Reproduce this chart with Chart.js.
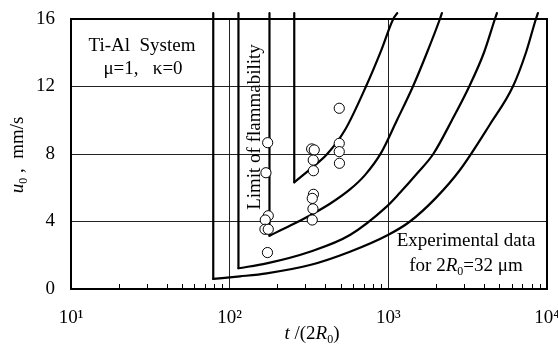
<!DOCTYPE html>
<html>
<head>
<meta charset="utf-8">
<script src="https://cdn.jsdelivr.net/npm/chart.js@4.4.1/dist/chart.umd.min.js"></script>
<style>
  body { margin: 0; background: #fff; }
  #wrap { width: 558px; height: 344px; }
</style>
</head>
<body>
<div id="wrap"><canvas id="myChart" width="558" height="344"></canvas></div>
<script>
// nhan truc
var xTickLabels = ['10\u00b9', '10\u00b2', '10\u00b3', '10\u2074'];
var yStep = 4;

// duong cong: diem dau la goc duoi, tu do ve thang dung len tren
var lineTop = 16.35;
var curveA_t = [78.8, 116.1, 171.1, 320.7, 572.9, 994.2, 1368, 1995, 2826, 4367, 6097, 7363, 8513, 8763];
var curveA_u = [0.6, 0.75, 0.93, 1.42, 2.21, 3.2, 4.0, 5.4, 7.05, 9.75, 12.0, 14.0, 16.0, 16.35];
var curveB_t = [113.6, 171.1, 320.7, 572.9, 975.6, 1183, 1536, 1919, 2516, 3234, 4003, 4696, 4834];
var curveB_u = [1.23, 1.52, 2.21, 3.2, 4.88, 5.7, 6.9, 8.0, 10.0, 12.0, 14.0, 16.0, 16.35];
var curveC_t = [178.2, 239.9, 320.7, 428.6, 572.9, 712.2, 898.2, 1133, 1429, 1751, 2114, 2176];
var curveC_u = [3.16, 3.75, 4.36, 5.05, 5.9, 6.75, 8.05, 10.0, 12.0, 14.0, 16.0, 16.35];
var curveD_t = [255.3, 336.3, 410.4, 532.8, 722.6, 898.2, 1074, 1138];
var curveD_u = [6.32, 7.25, 7.98, 9.42, 12.0, 14.1, 16.0, 16.35];

// diem thuc nghiem 2R0 = 32 um
var expT = [173.6, 169.3, 175.1, 167.6, 166.9, 175.1, 173.1,
            328.6, 341.2, 336.3, 337.3, 337.3, 331.5, 334.9, 331.5,
            490.5, 490.5, 490.5, 491.9];
var expU = [8.67, 6.89, 4.34, 4.09, 3.54, 3.54, 2.16,
            8.30, 8.24, 7.64, 7.01, 5.61, 5.37, 4.75, 4.09,
            10.71, 8.63, 8.14, 7.45];

var minorSteps = [2, 3, 4, 5, 6, 7, 8, 9];
var FONT = '"Liberation Serif", "Times New Roman", serif';

function toPoints(ts, us) {
    return ts.map(function (t, i) { return { x: t, y: us[i] }; });
}

function isPow10(v) {
    var e = Math.log10(v);
    return Math.abs(e - Math.round(e)) < 1e-9;
}

function lineSet(data, smooth) {
    return {
        data: data,
        showLine: true,
        borderColor: '#000',
        borderWidth: 2.2,
        borderCapStyle: 'round',
        pointRadius: 0,
        tension: smooth ? 0.4 : 0,
        cubicInterpolationMode: smooth ? 'monotone' : 'default',
        clip: false
    };
}

function curveSets(ts, us) {
    return [
        lineSet([{ x: ts[0], y: lineTop }, { x: ts[0], y: us[0] }], false),
        lineSet(toPoints(ts, us), true)
    ];
}

// chu co in nghieng / chi so duoi
function fontOf(s) {
    if (s === 'i') return 'italic 19px ' + FONT;
    if (s === 's') return '12px ' + FONT;
    return '19px ' + FONT;
}

function veDong(ctx, parts, x, y) {
    var total = 0;
    parts.forEach(function (p) { ctx.font = fontOf(p[1]); total += ctx.measureText(p[0]).width; });
    var cx = x - total / 2;
    ctx.textAlign = 'left';
    parts.forEach(function (p) {
        ctx.font = fontOf(p[1]);
        ctx.fillText(p[0], cx, y + (p[1] === 's' ? 4 : 0));
        cx += ctx.measureText(p[0]).width;
    });
}

var veKhung = {
    id: 'veKhung',
    afterDatasetsDraw: function (chart) {
        var ctx = chart.ctx, a = chart.chartArea, xs = chart.scales.x;
        ctx.save();
        ctx.strokeStyle = '#000';
        // vach nho ben trong truc x
        ctx.lineWidth = 1;
        for (var d = 10; d < 10000; d *= 10) {
            minorSteps.forEach(function (m) {
                var px = Math.round(xs.getPixelForValue(m * d)) + 0.5;
                ctx.beginPath();
                ctx.moveTo(px, a.bottom);
                ctx.lineTo(px, a.bottom - 5);
                ctx.stroke();
            });
        }
        ctx.lineWidth = 2;
        ctx.strokeRect(a.left, a.top, a.right - a.left, a.bottom - a.top);
        ctx.restore();
    },
    afterDraw: function (chart) {
        var ctx = chart.ctx;
        ctx.save();
        ctx.fillStyle = '#000';
        ctx.textBaseline = 'alphabetic';
        ctx.textAlign = 'center';
        ctx.font = fontOf('n');
        ctx.fillText('Ti-Al  System', 142, 51);
        ctx.fillText('\u03bc=1,   \u03ba=0', 143, 74);
        ctx.fillText('Experimental data', 466, 246);
        veDong(ctx, [['for 2', 'n'], ['R', 'i'], ['0', 's'], ['=32 \u03bcm', 'n']], 466, 271);
        veDong(ctx, [['t', 'i'], [' /(2', 'n'], ['R', 'i'], ['0', 's'], [')', 'n']], 312, 339);

        ctx.save();
        ctx.translate(260, 127);
        ctx.rotate(-Math.PI / 2);
        ctx.textAlign = 'center';
        ctx.font = fontOf('n');
        ctx.fillText('Limit of flammability', 0, 0);
        ctx.restore();

        ctx.save();
        ctx.translate(23, 155);
        ctx.rotate(-Math.PI / 2);
        veDong(ctx, [['u', 'i'], ['0', 's'], [' ,  mm/s', 'n']], 0, 0);
        ctx.restore();
        ctx.restore();
    }
};

function VeDoThi() {
    var datasets = [{
        data: toPoints(expT, expU),
        showLine: false,
        pointRadius: 5.1,
        pointBackgroundColor: '#fff',
        pointBorderColor: '#000',
        pointBorderWidth: 1
    }];
    [[curveA_t, curveA_u], [curveB_t, curveB_u], [curveC_t, curveC_u], [curveD_t, curveD_u]].forEach(function (c) {
        datasets = datasets.concat(curveSets(c[0], c[1]));
    });

    new Chart('myChart', {
        type: 'scatter',
        data: { datasets: datasets },
        options: {
            responsive: false,
            animation: false,
            layout: { padding: { top: 19, right: 11, left: 0, bottom: 0 } },
            plugins: { legend: { display: false }, tooltip: { enabled: false } },
            scales: {
                x: {
                    type: 'logarithmic',
                    min: 10,
                    max: 10000,
                    border: { display: false },
                    grid: {
                        drawTicks: false,
                        lineWidth: 1,
                        color: function (c) {
                            if (!c.tick) return 'rgba(0,0,0,0)';
                            var v = c.tick.value;
                            return (isPow10(v) && v > 10 && v < 10000) ? '#222' : 'rgba(0,0,0,0)';
                        }
                    },
                    ticks: {
                        autoSkip: false,
                        maxRotation: 0,
                        padding: 18,
                        color: '#000',
                        font: { family: FONT, size: 19 },
                        callback: function (v) {
                            if (!isPow10(v)) return '';
                            return xTickLabels[Math.round(Math.log10(v)) - 1];
                        }
                    },
                    afterFit: function (s) { s.height = 55; s.paddingLeft = 0; s.paddingRight = 0; }
                },
                y: {
                    min: 0,
                    max: 16,
                    border: { display: false },
                    grid: {
                        drawTicks: false,
                        lineWidth: 1,
                        color: function (c) {
                            if (!c.tick) return 'rgba(0,0,0,0)';
                            var v = c.tick.value;
                            return (v > 0 && v < 16) ? '#222' : 'rgba(0,0,0,0)';
                        }
                    },
                    ticks: {
                        stepSize: yStep,
                        padding: 16,
                        color: '#000',
                        font: { family: FONT, size: 19 }
                    },
                    afterFit: function (s) { s.width = 71; s.paddingTop = 0; s.paddingBottom = 0; }
                }
            }
        },
        plugins: [veKhung]
    });
}

VeDoThi();
</script>
</body>
</html>
